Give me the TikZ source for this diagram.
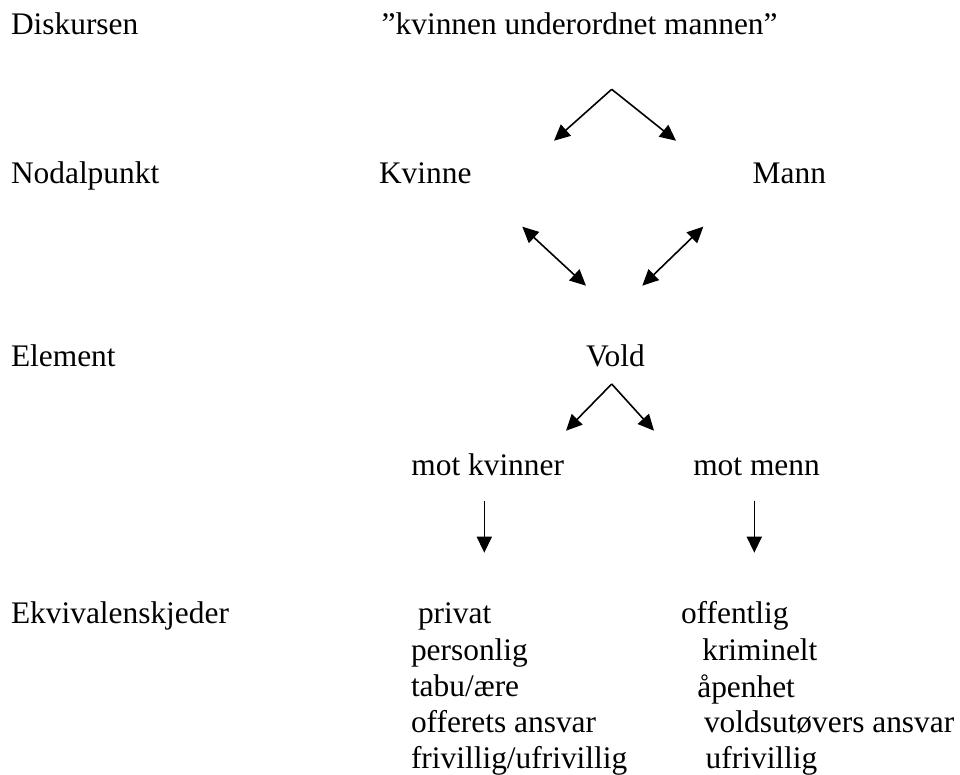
\documentclass[tikz,border=0pt]{standalone}
\usepackage{fontspec}
\setmainfont{Liberation Serif}
\usetikzlibrary{arrows.meta}
\begin{document}
\begin{tikzpicture}[x=1pt,y=-1pt,
  lbl/.style={anchor=base west,inner sep=0pt,outer sep=0pt,font=\fontsize{31.4}{36}\selectfont},
  conn/.style={line width=1.6pt,-{Triangle[length=16pt,width=15pt]}},
  dconn/.style={line width=1.6pt,{Triangle[length=16pt,width=15pt]}-{Triangle[length=16pt,width=15pt]}}]
\useasboundingbox[fill=white] (0,0) rectangle (960,775);
% row labels
\node[lbl] (diskursen) at (11,34.7) {Diskursen};
\node[lbl] (nodal) at (11,183.3) {Nodalpunkt};
\node[lbl] (element) at (11,366.7) {Element};
\node[lbl] (ekviv) at (11,623) {Ekvivalenskjeder};
% content
\node[lbl] (disk) at (381.7,34.7) {”kvinnen underordnet mannen”};
\node[lbl] (kvinne) at (379,183.3) {Kvinne};
\node[lbl] (mann) at (752.7,183.3) {Mann};
\node[lbl] (vold) at (586,366.7) {Vold};
\node[lbl] (motk) at (411.4,475.7) {mot kvinner};
\node[lbl] (motm) at (693.3,475.7) {mot menn};
% chains
\node[lbl] (l1) at (418,623) {privat};
\node[lbl] (l2) at (411,660) {personlig};
\node[lbl] (l3) at (411,696.5) {tabu/ære};
\node[lbl] (l4) at (411,732.5) {offerets ansvar};
\node[lbl] (l5) at (411,768) {frivillig/ufrivillig};
\node[lbl] (r1) at (681,623) {offentlig};
\node[lbl] (r2) at (702.3,660.7) {kriminelt};
\node[lbl] (r3) at (697.3,697) {åpenhet};
\node[lbl] (r4) at (704,732) {voldsutøvers ansvar};
\node[lbl] (r5) at (705.7,768) {ufrivillig};
% connector end points
\coordinate (apexA) at (611.7,89.3);
\coordinate (tipAL) at (554,140.7);
\coordinate (tipAR) at (676,140.7);
\coordinate (dlA) at (522.3,226.7);
\coordinate (dlB) at (586,285.7);
\coordinate (drA) at (703.3,226.7);
\coordinate (drB) at (642.3,285.7);
\coordinate (apexB) at (611.7,384);
\coordinate (tipBL) at (566,430.7);
\coordinate (tipBR) at (654,430.7);
\coordinate (dkA) at (484.3,500.7);
\coordinate (dkB) at (484.3,552.7);
\coordinate (dmA) at (754.3,500.7);
\coordinate (dmB) at (754.3,552.7);
% connectors
\draw[conn] (apexA) -- (tipAL);
\draw[conn] (apexA) -- (tipAR);
\draw[dconn] (dlA) -- (dlB);
\draw[dconn] (drA) -- (drB);
\draw[conn] (apexB) -- (tipBL);
\draw[conn] (apexB) -- (tipBR);
\draw[conn] (dkA) -- (dkB);
\draw[conn] (dmA) -- (dmB);
\end{tikzpicture}
\end{document}
